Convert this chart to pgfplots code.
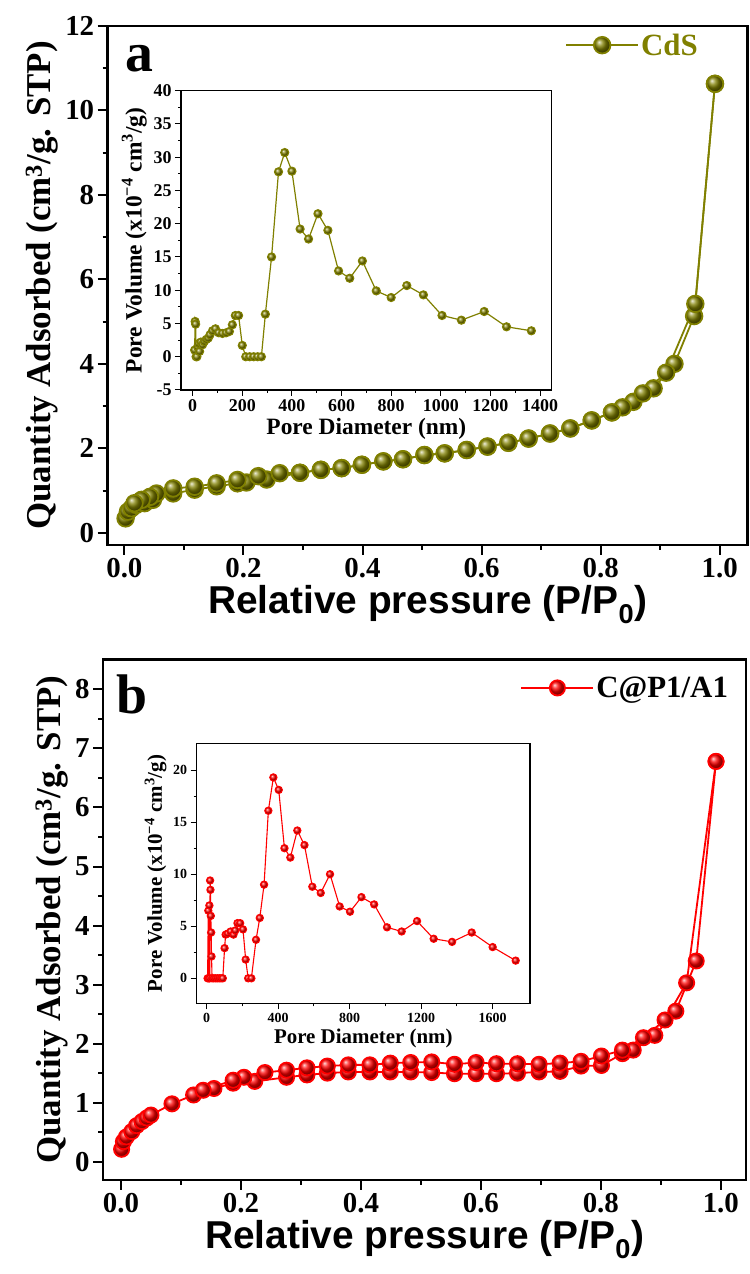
\documentclass[border=0pt]{standalone}
\usepackage{fontspec}
\setmainfont{Liberation Serif}
\newfontfamily\arial{Liberation Sans}
\usepackage{pgfplots}
\pgfplotsset{compat=1.18}
\definecolor{olv}{RGB}{128,128,0}
\newcommand\fs[1]{\fontsize{#1}{#1}\selectfont\bfseries}
\pgfplotsset{
  mainax/.style={
    scale only axis, axis line style={line width=2.5bp},
    every tick/.style={line width=2bp, black},
    tick align=outside, major tick length=10bp, minor tick length=5bp,
    xtick pos=left, ytick pos=left, minor tick num=1,
    /pgf/number format/assume math mode=true,
    tick label style={font=\fs{29}},
    xtick={0,0.2,0.4,0.6,0.8,1.0},
    xticklabel style={/pgf/number format/.cd, fixed, fixed zerofill, precision=1},
    xlabel style={font=\arial\fs{39}},
    ylabel style={font=\fs{35}},
    xlabel={Relative pressure (P/P\textsubscript{0})},
    ylabel={Quantity Adsorbed (cm\textsuperscript{3}/g. STP)},
    legend style={draw=none, fill=none, font=\fs{31}},
    legend image code/.code={\draw[##1, mark repeat=2, mark phase=2] plot coordinates {(0bp,0bp) (36bp,0bp) (72bp,0bp)};},
  },
  inax/.style={
    scale only axis, axis line style={line width=1.3bp},
    every tick/.style={line width=1bp, black},
    tick align=outside, major tick length=6bp, minor tick length=3bp,
    xtick pos=left, ytick pos=left, minor tick num=1,
    /pgf/number format/assume math mode=true,
    /pgf/number format/set thousands separator={},
    axis background/.style={fill=white},
    xlabel={Pore Diameter (nm)},
    ylabel={Pore Volume (x10\textsuperscript{−4} cm\textsuperscript{3}/g)},
  },
}
\begin{document}
\begin{tikzpicture}
\path[use as bounding box] (0,0) rectangle (750bp,1274bp);
% ---------- panel a ----------
\begin{axis}[mainax, at={(107.7bp,729bp)}, width=640bp, height=519bp,
  xmin=-0.028, xmax=1.047, ymin=-0.29, ymax=12, ytick={0,2,...,12},
  legend style={text=olv, at={(0.93,0.963)}, anchor=east}]
\addplot[color=olv, line width=1.8bp, mark=ball, mark size=8.3bp, mark options={ball color=olv}] coordinates {
(0.002,0.34)(0.006,0.50)(0.012,0.58)(0.020,0.66)(0.034,0.70)(0.048,0.78)(0.082,0.93)
(0.118,1.02)(0.155,1.10)(0.190,1.17)(0.205,1.19)(0.239,1.26)(0.295,1.42)(0.330,1.49)
(0.365,1.53)(0.399,1.61)(0.435,1.69)(0.468,1.74)(0.504,1.84)(0.538,1.88)(0.575,1.96)
(0.610,2.04)(0.645,2.13)(0.679,2.23)(0.715,2.35)(0.749,2.47)(0.785,2.66)(0.819,2.85)
(0.855,3.10)(0.889,3.42)(0.924,4.00)(0.957,5.13)(0.992,10.63)};
\addlegendentry{CdS}
\addplot[forget plot, color=olv, line width=1.8bp, mark=ball, mark size=8.3bp, mark options={ball color=olv}] coordinates {
(0.992,10.63)(0.959,5.42)(0.910,3.79)(0.871,3.30)(0.837,2.97)(0.819,2.85)(0.785,2.66)
(0.749,2.47)(0.715,2.35)(0.679,2.23)(0.645,2.13)(0.610,2.04)(0.575,1.96)(0.538,1.88)
(0.504,1.84)(0.468,1.74)(0.435,1.69)(0.399,1.61)(0.365,1.53)(0.330,1.49)(0.295,1.42)
(0.261,1.41)(0.225,1.34)(0.190,1.25)(0.155,1.17)(0.118,1.09)(0.082,1.05)(0.054,0.93)
(0.043,0.85)(0.029,0.78)(0.017,0.70)};
\node[anchor=base west, font=\fs{56}] at (rel axis cs:0.022,0.912) {a};
\end{axis}
% ---------- inset a ----------
\begin{axis}[inax, at={(181bp,884bp)}, width=370.7bp, height=299.3bp,
  xmin=-47, xmax=1447, ymin=-5, ymax=40,
  xtick={0,200,...,1400}, ytick={-5,0,...,40},
  tick label style={font=\fs{18}}, label style={font=\fs{23.5}}]
\addplot[color=olv, line width=1.2bp, mark=ball, mark size=4bp, mark options={ball color=olv}] coordinates {
(8,1.0)(10,5.3)(12,4.9)(14,0)(17,0)(20,1.5)(24,2.0)(28,0.8)(33,2.2)(40,1.8)(47,2.3)
(55,2.6)(63,2.8)(70,3.3)(80,3.9)(92,4.2)(105,3.6)(120,3.5)(135,3.6)(148,3.8)(160,4.8)
(172,6.2)(185,6.2)(200,1.7)(214,0)(230,0)(246,0)(262,0)(277,0)(293,6.4)(318,15.0)
(346,27.8)(371,30.7)(400,27.9)(433,19.2)(467,17.7)(505,21.5)(545,19.0)(588,12.9)
(633,11.8)(684,14.4)(740,9.9)(800,8.9)(863,10.7)(930,9.3)(1005,6.2)(1083,5.5)
(1175,6.8)(1265,4.5)(1365,3.9)};
\end{axis}
% ---------- panel b ----------
\begin{axis}[mainax, at={(103bp,94bp)}, width=643bp, height=520.7bp,
  xmin=-0.03, xmax=1.042, ymin=-0.31, ymax=8.51, ytick={0,1,...,8},
  legend style={text=black, at={(0.98,0.945)}, anchor=east}]
\addplot[color=red, line width=1.8bp, mark=ball, mark size=7.6bp, mark options={ball color=red}] coordinates {
(0.001,0.21)(0.004,0.34)(0.009,0.42)(0.018,0.51)(0.026,0.61)(0.035,0.68)(0.043,0.74)
(0.050,0.79)(0.085,0.98)(0.121,1.13)(0.155,1.24)(0.187,1.33)(0.223,1.36)(0.276,1.43)
(0.310,1.47)(0.344,1.50)(0.379,1.52)(0.415,1.52)(0.449,1.52)(0.483,1.52)(0.518,1.51)
(0.556,1.49)(0.592,1.49)(0.626,1.49)(0.661,1.50)(0.697,1.52)(0.732,1.53)(0.767,1.62)
(0.801,1.63)(0.836,1.83)(0.854,1.89)(0.890,2.14)(0.925,2.55)(0.959,3.40)(0.992,6.78)};
\addlegendentry{C@P1/A1}
\addplot[forget plot, color=red, line width=1.8bp, mark=ball, mark size=7.6bp, mark options={ball color=red}] coordinates {
(0.992,6.78)(0.943,3.03)(0.907,2.40)(0.871,2.10)(0.836,1.89)(0.801,1.79)(0.767,1.70)
(0.732,1.67)(0.697,1.65)(0.661,1.66)(0.626,1.66)(0.592,1.68)(0.556,1.65)(0.518,1.69)
(0.483,1.68)(0.449,1.67)(0.415,1.64)(0.379,1.64)(0.344,1.62)(0.310,1.59)(0.276,1.55)
(0.240,1.51)(0.205,1.43)(0.187,1.38)(0.137,1.21)};
\node[anchor=base west, font=\fs{56}] at (rel axis cs:0.0156,0.895) {b};
\end{axis}
% ---------- inset b ----------
\begin{axis}[inax, at={(196.7bp,270.7bp)}, width=333.3bp, height=259.7bp,
  xmin=-56, xmax=1809, ymin=-2.4, ymax=22.55,
  xtick={0,400,...,1600}, ytick={0,5,...,20},
  tick label style={font=\fs{14}}, label style={font=\fs{21}}]
\addplot[color=red, line width=1.1bp, mark=ball, mark size=3.6bp, mark options={ball color=red}] coordinates {
(5,0)(9,6.5)(12,0)(15,7.0)(17,0)(19,9.4)(21,8.5)(23,6.0)(25,4.4)(27,2.1)(30,0)(40,0)
(50,0)(60,0)(70,0)(80,0)(90,0)(100,2.9)(106,4.2)(118,4.3)(134,4.5)(150,4.2)(160,4.6)
(172,5.3)(187,5.3)(203,4.7)(218,1.8)(232,0)(250,0)(276,3.7)(297,5.8)(321,9.0)(345,16.1)
(373,19.3)(403,18.1)(435,12.5)(468,11.6)(507,14.2)(547,12.8)(591,8.8)(638,8.2)(690,10.0)
(744,6.9)(802,6.4)(866,7.8)(937,7.1)(1009,4.9)(1091,4.5)(1177,5.5)(1270,3.8)(1373,3.5)
(1483,4.4)(1600,3.0)(1729,1.7)};
\end{axis}
\end{tikzpicture}
\end{document}
